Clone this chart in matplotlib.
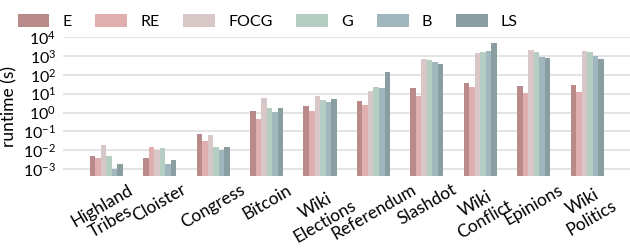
import matplotlib

matplotlib.use("Agg")
import matplotlib.pyplot as plt
import numpy as np

# runtime (s) per dataset
datasets = ["Highland\nTribes", "Cloister", "Congress", "Bitcoin", "Wiki\nElections",
            "Referendum", "Slashdot", "Wiki\nConflict", "Epinions", "Wiki\nPolitics"]
methods = ["E", "RE", "FOCG", "G", "B", "LS"]

rt_E = [0.0049, 0.004, 0.072, 1.2, 2.2, 4.1, 20, 37, 26, 29]
rt_RE = [0.004, 0.015, 0.031, 0.45, 1.2, 2.5, 7.6, 23, 11, 12]
rt_FOCG = [0.019, 0.01, 0.063, 5.9, 7.6, 14, 700, 1450, 2100, 1900]
rt_G = [0.0049, 0.013, 0.015, 1.7, 4.6, 23, 620, 1650, 1650, 1650]
rt_B = [0.001, 0.0018, 0.01, 1.07, 3.6, 20, 480, 1900, 900, 1000]
rt_LS = [0.0018, 0.003, 0.015, 1.7, 5.3, 145, 370, 5000, 790, 700]

colors = ["#b88a8a", "#dfaeae", "#d8c7c7", "#b5cdc3", "#9fb7bd", "#8a9ea2"]

plt.rcParams["font.family"] = ["Lato", "DejaVu Sans"]
plt.rcParams["font.size"] = 11

fig = plt.figure(figsize=(6.3, 2.5), dpi=100)
ax = fig.add_axes([0.1, 0.296, 0.9, 0.556])

series = [rt_E, rt_RE, rt_FOCG, rt_G, rt_B, rt_LS]
x = np.arange(len(datasets))
w = 0.62 / len(series)
for i, (vals, name, col) in enumerate(zip(series, methods, colors)):
    ax.bar(x + (i - 2.5) * w, vals, width=w, color=col, label=name, zorder=2)

ax.set_yscale("log")
ax.set_ylim(10 ** -3.36, 1e4)
ax.set_yticks([10.0 ** k for k in range(-3, 5)])
ax.minorticks_off()
ax.set_xlim(-0.81, 9.8)
ax.set_xticks(x)
ax.set_xticklabels(datasets, rotation=30, ha="center", multialignment="center",
                   fontsize=12.5)
ax.tick_params(axis="x", length=0, pad=4)
ax.tick_params(axis="y", length=0, pad=5, labelsize=11.5)
ax.set_ylabel("runtime (s)", fontsize=12.5)
ax.grid(True, axis="y", color="#dddddd", linewidth=1.1, zorder=0)
for s in ax.spines.values():
    s.set_visible(False)

fig.legend(loc="upper left", bbox_to_anchor=(0.005, 1.0), ncol=6, frameon=False,
           fontsize=11.5, handlelength=2.0, handleheight=0.85, handletextpad=0.8,
           columnspacing=1.5)

fig.savefig("out.png", dpi=100)
plt.close(fig)
